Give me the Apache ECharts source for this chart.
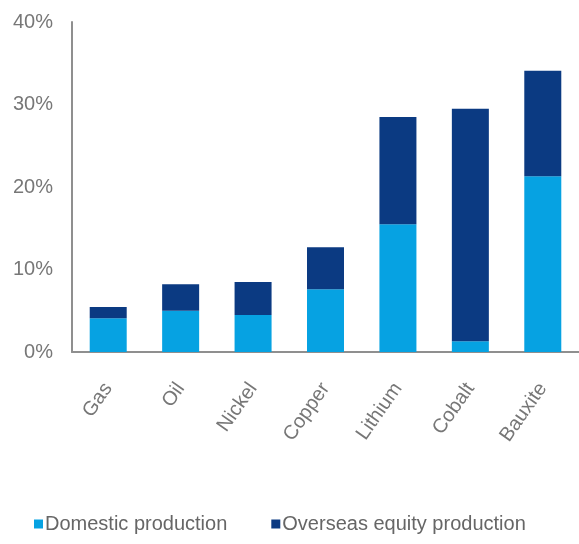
<!DOCTYPE html>
<html>
<head>
<meta charset="utf-8">
<script src="https://cdn.jsdelivr.net/npm/echarts@6/dist/echarts.min.js"></script>
<style>
  html, body { margin: 0; padding: 0; background: #fff; }
  #chart { width: 579px; height: 544px; }
</style>
</head>
<body>
<div id="chart"></div>
<script>
// Share of production, by commodity (%)
const categories = ['Gas', 'Oil', 'Nickel', 'Copper', 'Lithium', 'Cobalt', 'Bauxite'];
const domestic = [4.1, 5.0, 4.5, 7.6, 15.5, 1.3, 21.3];
const overseas = [1.35, 3.2, 4.0, 5.1, 13.0, 28.2, 12.8];
const yTicks = [0, 10, 20, 30, 40];

const FONT = '"Liberation Sans Narrow", "Liberation Sans", Arial, sans-serif';

const chart = echarts.init(document.getElementById('chart'), null, { renderer: 'canvas' });
chart.setOption({
  animation: false,
  backgroundColor: '#ffffff',
  grid: { left: 72, right: -9, top: 22, bottom: 192 },
  legend: {
    top: 509,
    left: 29,
    itemWidth: 9,
    itemHeight: 9,
    itemGap: 44,
    icon: 'rect',
    textStyle: { color: '#666', fontSize: 20, fontFamily: FONT, padding: [0, 0, 0, -3] },
    data: ['Domestic production', 'Overseas equity production']
  },
  xAxis: {
    type: 'category',
    data: categories,
    axisLine: { lineStyle: { color: '#8f8f8f', width: 2 } },
    axisTick: { show: false },
    axisLabel: {
      rotate: 55,
      margin: 33,
      color: '#777',
      fontSize: 20,
      fontFamily: FONT
    }
  },
  yAxis: {
    type: 'value',
    min: yTicks[0],
    max: yTicks[yTicks.length - 1],
    interval: 10,
    axisLine: { show: true, lineStyle: { color: '#8f8f8f', width: 2 } },
    axisTick: { show: false },
    splitLine: { show: false },
    axisLabel: {
      margin: 19,
      color: '#777',
      fontSize: 20,
      fontFamily: FONT,
      padding: [4, 0, 0, 0],
      formatter: v => v + '%'
    }
  },
  series: [
    {
      name: 'Domestic production',
      type: 'bar',
      stack: 'total',
      barWidth: 37,
      itemStyle: { color: '#06a2e2' },
      data: domestic
    },
    {
      name: 'Overseas equity production',
      type: 'bar',
      stack: 'total',
      barWidth: 37,
      itemStyle: { color: '#0b3a82' },
      data: overseas
    }
  ]
});
</script>
</body>
</html>
